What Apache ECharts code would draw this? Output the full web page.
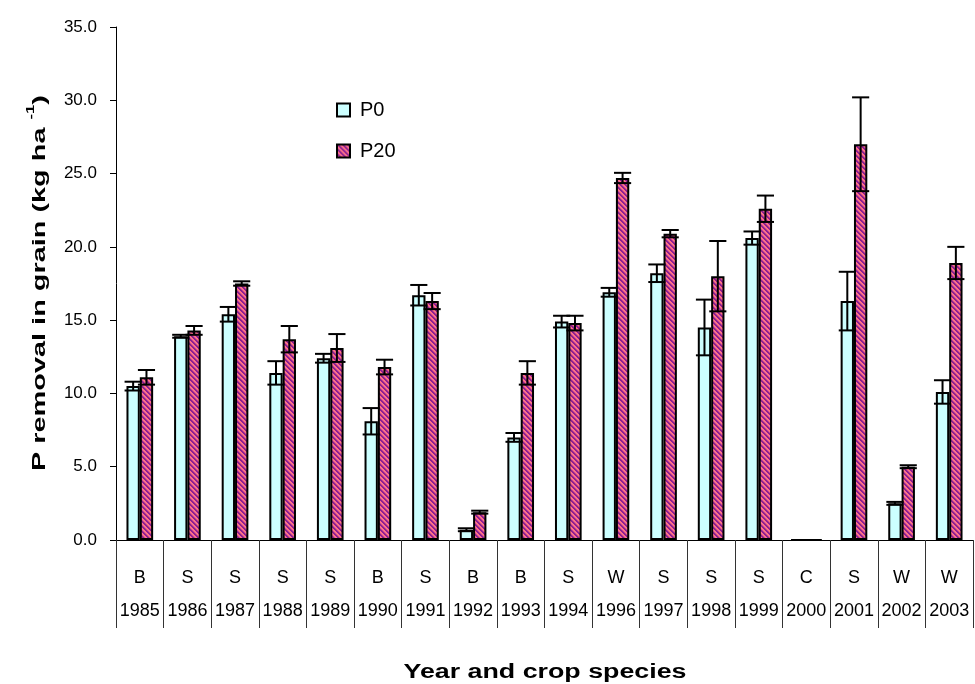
<!DOCTYPE html>
<html>
<head>
<meta charset="utf-8">
<script src="https://cdn.jsdelivr.net/npm/echarts@6/dist/echarts.min.js"></script>
<style>
  html, body { margin: 0; padding: 0; background: #fff; }
  #chart { width: 975px; height: 684px; }
</style>
</head>
<body>
<div id="chart"></div>
<script>
// Harvest years and the crop grown in each year
const years = ['1985','1986','1987','1988','1989','1990','1991','1992','1993','1994','1996','1997','1998','1999','2000','2001','2002','2003'];
const crops = ['B','S','S','S','S','B','S','B','B','S','W','S','S','S','C','S','W','W'];

// P removal in grain (kg ha-1) for the two P treatments
const p0Values  = [10.5, 13.9, 15.4, 11.4, 12.4, 8.1, 16.7, 0.7, 7.0, 14.9, 16.9, 18.2, 14.5, 20.6, 0, 16.3, 2.5, 10.1];
const p20Values = [11.1, 14.3, 17.5, 13.7, 13.1, 11.8, 16.3, 1.9, 11.4, 14.8, 24.7, 20.9, 18.0, 22.6, 0, 27.0, 5.0, 18.9];

// Error bar half-lengths
const p0Err  = [0.3, 0.1, 0.5, 0.8, 0.3, 0.9, 0.7, 0.1, 0.3, 0.4, 0.3, 0.6, 1.9, 0.45, 0, 2.0, 0.1, 0.8];
const p20Err = [0.5, 0.3, 0.15, 0.9, 0.95, 0.5, 0.55, 0.1, 0.8, 0.5, 0.35, 0.25, 2.4, 0.9, 0, 3.2, 0.1, 1.1];

// Y axis ticks
const yMin = 0, yMax = 35, yStep = 5;

// Diagonal purple / pink hatch for the P20 bars
function makeHatch() {
  const n = 5;
  const c = document.createElement('canvas');
  c.width = n; c.height = n;
  const ctx = c.getContext('2d');
  for (let x = 0; x < n; x++) {
    for (let y = 0; y < n; y++) {
      const k = ((x - y) % n + n) % n;
      ctx.fillStyle = k < 2 ? '#8E1F92' : (k === 2 ? '#C64C90' : '#FF7286');
      ctx.fillRect(x, y, 1, 1);
    }
  }
  return c;
}
const hatch = { image: makeHatch(), repeat: 'repeat' };

const FONT = '"Liberation Sans", Arial, sans-serif';
const BAR_FRAC = 0.28;

function errorSeries(values, errs, side) {
  return {
    type: 'custom',
    silent: true,
    z: 5,
    data: values.map((v, i) => [i, v, errs[i]]),
    encode: { x: 0, y: 1 },
    renderItem: function (params, api) {
      const i = api.value(0), v = api.value(1), e = api.value(2);
      const band = api.size([1, 0])[0];
      const hi = api.coord([i, v + e]);
      const lo = api.coord([i, v - e]);
      const x = hi[0] + side * band * BAR_FRAC / 2;
      const cap = band * 0.18;
      const st = { stroke: '#000', lineWidth: 2 };
      return {
        type: 'group',
        children: [
          { type: 'line', shape: { x1: x, y1: hi[1], x2: x, y2: lo[1] }, style: st },
          { type: 'line', shape: { x1: x - cap, y1: hi[1], x2: x + cap, y2: hi[1] }, style: st },
          { type: 'line', shape: { x1: x - cap, y1: lo[1], x2: x + cap, y2: lo[1] }, style: st }
        ]
      };
    }
  };
}

const chart = echarts.init(document.getElementById('chart'), null, { renderer: 'canvas' });
chart.setOption({
  animation: false,
  backgroundColor: '#fff',
  textStyle: { fontFamily: FONT, color: '#000' },
  grid: { left: 116, right: 2, top: 27, bottom: 144, containLabel: false, outerBoundsMode: 'none' },
  legend: {
    orient: 'vertical',
    left: 331,
    top: 95,
    itemWidth: 13,
    itemHeight: 13,
    itemGap: 21,
    icon: 'rect',
    data: ['P0', 'P20'],
    textStyle: { fontSize: 20, fontFamily: FONT, color: '#000', padding: [0, 0, 0, 5] }
  },
  // Axis titles, stretched along their baseline
  graphic: [
    {
      type: 'text',
      x: 545, y: 672,
      scaleX: 1.34,
      silent: true,
      style: {
        text: 'Year and crop species',
        font: 'bold 20px ' + FONT,
        fill: '#000',
        align: 'center',
        verticalAlign: 'middle'
      }
    },
    {
      type: 'text',
      x: 37, y: 283,
      rotation: Math.PI / 2,
      scaleX: 1.52,
      silent: true,
      style: {
        text: '{a|P removal in grain (kg ha }{s|-1}{a|)}',
        rich: {
          a: { font: 'bold 19px ' + FONT, fill: '#000', lineHeight: 24, verticalAlign: 'bottom' },
          s: { font: 'bold 11px ' + FONT, fill: '#000', lineHeight: 24, verticalAlign: 'top' }
        },
        align: 'center',
        verticalAlign: 'middle'
      }
    }
  ],
  xAxis: {
    type: 'category',
    data: years,
    boundaryGap: true,
    axisLine: { lineStyle: { color: '#000', width: 1 } },
    axisTick: { show: true, length: 88, lineStyle: { color: '#333', width: 1 } },
    axisLabel: {
      interval: 0,
      margin: 22,
      formatter: (v, idx) => '{c|' + crops[idx] + '}\n{y|' + v + '}',
      rich: {
        c: { fontSize: 18, lineHeight: 33, fontFamily: FONT, color: '#000' },
        y: { fontSize: 18, lineHeight: 33, fontFamily: FONT, color: '#000' }
      }
    }
  },
  yAxis: {
    type: 'value',
    min: yMin,
    max: yMax,
    interval: yStep,
    splitLine: { show: false },
    axisLine: { show: true, lineStyle: { color: '#000', width: 1 } },
    axisTick: { show: true, length: 6, lineStyle: { color: '#000' } },
    axisLabel: {
      fontSize: 17,
      margin: 19,
      color: '#000',
      fontFamily: FONT,
      formatter: v => v.toFixed(1)
    }
  },
  series: [
    {
      name: 'P0',
      type: 'bar',
      data: p0Values,
      barWidth: (BAR_FRAC * 100) + '%',
      barGap: '0%',
      itemStyle: { color: '#CCFFFF', borderColor: '#000', borderWidth: 2 }
    },
    {
      name: 'P20',
      type: 'bar',
      data: p20Values,
      barWidth: (BAR_FRAC * 100) + '%',
      barGap: '0%',
      itemStyle: { color: hatch, borderColor: '#000', borderWidth: 2 }
    },
    errorSeries(p0Values, p0Err, -1),
    errorSeries(p20Values, p20Err, 1)
  ]
});
</script>
</body>
</html>
